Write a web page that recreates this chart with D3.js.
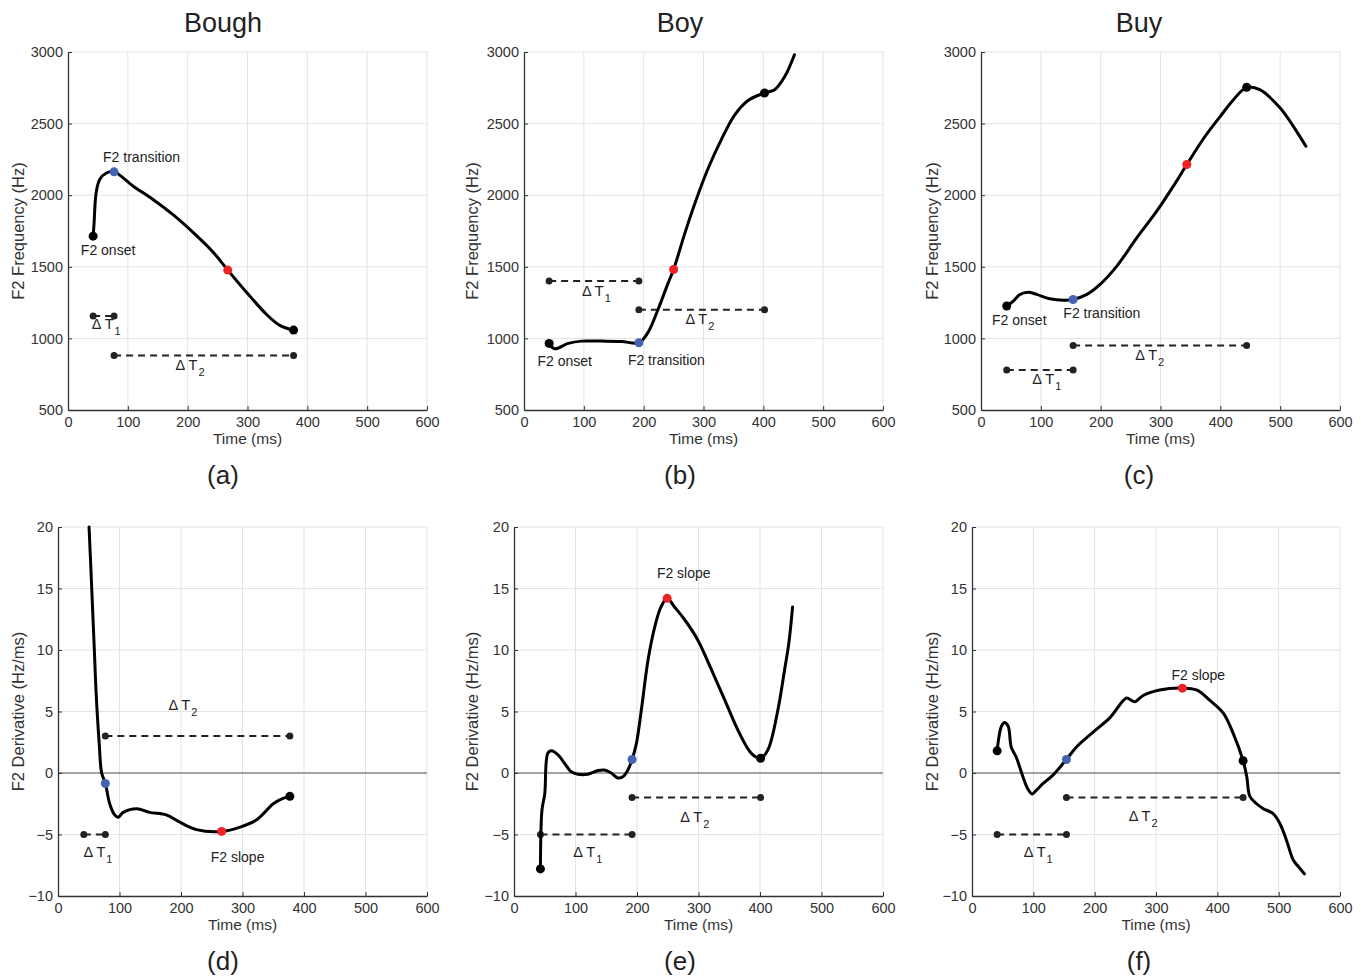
<!DOCTYPE html>
<html>
<head>
<meta charset="utf-8">
<script src="https://cdn.jsdelivr.net/npm/d3@7"></script>
<style>
  body { margin: 0; background: #fff; }
  svg text { font-family: "Liberation Sans", Arial, Helvetica, sans-serif; fill: #222; }
</style>
</head>
<body>
<svg id="fig" width="1366" height="978"></svg>
<script>
// words and columns
let words = ["Bough", "Boy", "Buy"]
let tickT = [0, 100, 200, 300, 400, 500, 600]
let tickF = [500, 1000, 1500, 2000, 2500, 3000]
let tickD = [-10, -5, 0, 5, 10, 15, 20]

// F2 frequency tracks [time ms, Hz]
let freqA = [[42,1714],[43.5,1800],[47,2016],[53,2109],[64,2155],[77,2163],[109,2063],[142,1970],[176,1862],[209,1740],[243,1600],[267,1477],[299,1319],[332,1167],[354,1091],[377,1058]]
let freqB = [[42,965],[51,928],[74,965],[96,981],[129,981],[163,979],[192,970],[207,1040],[224,1202],[241,1388],[250,1481],[269,1737],[287,1960],[308,2190],[330,2390],[352,2560],[374,2660],[402,2714],[419,2737],[436,2830],[452,2981]]
let freqC = [[43,1226],[54,1260],[65,1307],[79,1323],[93,1307],[115,1277],[138,1267],[154,1272],[177,1307],[199,1377],[227,1505],[260,1700],[294,1890],[321,2060],[344,2214],[372,2396],[400,2551],[422,2667],[444,2753],[466,2737],[500,2609],[522,2481],[543,2342]]

// F2 derivative tracks [time ms, Hz/ms]
let derivA = [[50.5,20],[54,16],[59,10.1],[62,6.5],[67,2.4],[71,0],[77,-0.85],[84,-2.5],[92,-3.4],[98,-3.6],[106,-3.2],[128,-2.9],[149,-3.2],[176,-3.4],[198,-4.0],[225,-4.6],[266,-4.75],[296,-4.4],[323,-3.8],[350,-2.5],[364,-2.1],[377,-1.9]]
let derivB = [[43,-7.8],[45.5,-3.0],[50,-1.7],[55,1.6],[61,1.8],[72,1.45],[82,0.8],[93,0.1],[104,-0.1],[120,-0.1],[137,0.2],[147,0.24],[158,0],[169,-0.4],[177,-0.3],[185,0.23],[192,1.1],[199,2.4],[207,5.1],[218,9.2],[229,11.9],[239,13.5],[249,14.2],[261,13.5],[277,12.5],[299,10.8],[321,8.4],[343,5.9],[364,3.5],[386,1.6],[401,1.2],[413,1.9],[429,5.1],[440,8.4],[447,10.6],[453,13.5]]
let derivC = [[41,1.8],[44,2.95],[48,3.8],[53,4.1],[59,3.8],[64,2.1],[72,1.3],[83,-0.3],[91,-1.3],[98,-1.7],[105,-1.4],[116,-0.85],[132,-0.17],[154,1.1],[170,2.1],[197,3.3],[225,4.5],[252,6.1],[260,5.9],[266,5.8],[279,6.3],[306,6.75],[343,6.9],[366,6.75],[388,5.9],[410,4.85],[426,3.2],[442,1.0],[448,-0.3],[453,-1.9],[464,-2.5],[475,-2.9],[491,-3.3],[502,-4.1],[513,-5.5],[524,-7.1],[532,-7.6],[542,-8.2]]

// landmarks: black (onset/end), blue (transition), red (slope)
let freqMarks = [
  { black: [[42,1714],[377,1058]], blue: [77,2163], red: [267,1477] },
  { black: [[42,965],[402,2714]], blue: [192,970], red: [250,1481] },
  { black: [[43,1226],[444,2753]], blue: [154,1272], red: [344,2214] }
]
let derivMarks = [
  { black: [[377,-1.9]], blue: [77,-0.85], red: [266,-4.75] },
  { black: [[43,-7.8],[401,1.2]], blue: [192,1.1], red: [249,14.2] },
  { black: [[41,1.8],[442,1.0]], blue: [154,1.1], red: [343,6.9] }
]

// delta T spans [t0, t1, level], label [t, level]
let freqSpans = [
  { d1: [42,77,1156], l1: [64,1063], d2: [77,377,881], l2: [204,779] },
  { d1: [42,192,1400], l1: [121,1295], d2: [192,402,1200], l2: [294,1098] },
  { d1: [43,154,780], l1: [110,679], d2: [154,444,950], l2: [282,849] }
]
let derivSpans = [
  { d1: [42,77,-5], l1: [65,-6.8], d2: [77,377,3], l2: [203,5.1] },
  { d1: [43,192,-5], l1: [120,-6.8], d2: [192,401,-2], l2: [294,-4.0] },
  { d1: [41,154,-5], l1: [108,-6.8], d2: [154,442,-2], l2: [279,-3.9] }
]

// text notes [text, t, value]
let freqNotes = [
  [["F2 transition",123,2267],["F2 onset",67,1616]],
  [["F2 onset",68,842],["F2 transition",238,849]],
  [["F2 onset",64,1128],["F2 transition",202,1174]]
]
let derivNotes = [
  [["F2 slope",292,-6.8]],
  [["F2 slope",276,16.3]],
  [["F2 slope",369,8.0]]
]

let panelLetters = ["(a)","(b)","(c)","(d)","(e)","(f)"]

let svg = d3.select("#fig")

// panel frames in px
let topFrames = [
  { x0: 68, x1: 427, y0: 52, y1: 410 },
  { x0: 524, x1: 883, y0: 52, y1: 410 },
  { x0: 981, x1: 1340, y0: 52, y1: 410 }
]
let botFrames = [
  { x0: 58, x1: 427, y0: 527, y1: 896 },
  { x0: 514, x1: 883, y0: 527, y1: 896 },
  { x0: 972, x1: 1340, y0: 527, y1: 896 }
]
let ylabX = [18, 472, 932]
let titleX = [223, 680, 1139]

function drawPanel(frame, yDomain, yTicks, curve, marks, spans, notes, yTitle, ylx, letter, lx, zeroLine) {
  let x = d3.scaleLinear().domain([0, 600]).range([frame.x0, frame.x1])
  let y = d3.scaleLinear().domain(yDomain).range([frame.y1, frame.y0])
  let g = svg.append("g")

  // grid
  g.append("g").selectAll("line").data(tickT.slice(1)).join("line")
    .attr("x1", d => x(d)).attr("x2", d => x(d))
    .attr("y1", frame.y0).attr("y2", frame.y1)
    .style("stroke", "#e3e3e3").style("stroke-width", 1)
  g.append("g").selectAll("line").data(yTicks.slice(1)).join("line")
    .attr("x1", frame.x0).attr("x2", frame.x1)
    .attr("y1", d => y(d)).attr("y2", d => y(d))
    .style("stroke", "#e3e3e3").style("stroke-width", 1)

  if (zeroLine) {
    g.append("line")
      .attr("x1", frame.x0).attr("x2", frame.x1)
      .attr("y1", y(0)).attr("y2", y(0))
      .style("stroke", "#555").style("stroke-width", 1.2)
  }

  // axes
  let xAxis = g.append("g")
    .attr("transform", `translate(0,${frame.y1})`)
    .call(d3.axisBottom(x).tickValues(tickT).tickSizeInner(-4).tickSizeOuter(0).tickPadding(7))
  let yAxis = g.append("g")
    .attr("transform", `translate(${frame.x0},0)`)
    .call(d3.axisLeft(y).tickValues(yTicks).tickSizeInner(-4).tickSizeOuter(0).tickPadding(5)
      .tickFormat(d => d < 0 ? "\u2212" + Math.abs(d) : d))
  ;[xAxis, yAxis].forEach(a => {
    a.select(".domain").style("stroke", "#333").style("stroke-width", 1.3)
    a.selectAll(".tick line").style("stroke", "#333")
    a.selectAll(".tick text").style("font-size", "14.5px").style("fill", "#333")
      .style("font-family", "'Liberation Sans', Arial, sans-serif")
  })

  g.append("text")
    .attr("x", (frame.x0 + frame.x1) / 2).attr("y", frame.y1 + 34)
    .attr("text-anchor", "middle")
    .style("font-size", "15.5px").style("fill", "#333")
    .text("Time (ms)")

  g.append("text")
    .attr("transform", `translate(${ylx},${(frame.y0 + frame.y1) / 2}) rotate(-90)`)
    .attr("text-anchor", "middle").attr("dominant-baseline", "central")
    .style("font-size", "16.5px").style("fill", "#333")
    .text(yTitle)

  g.append("text")
    .attr("x", lx).attr("y", frame.y1 + 74)
    .attr("text-anchor", "middle")
    .style("font-size", "26px").style("fill", "#222")
    .text(letter)

  // delta T spans
  ;[["d1", "l1", "1"], ["d2", "l2", "2"]].forEach(([dk, lk, sub]) => {
    let s = spans[dk]
    g.append("line")
      .attr("x1", x(s[0])).attr("x2", x(s[1]))
      .attr("y1", y(s[2])).attr("y2", y(s[2]))
      .style("stroke", "#222").style("stroke-width", 2)
      .style("stroke-dasharray", "7,5")
    g.append("g").selectAll("circle").data([s[0], s[1]]).join("circle")
      .attr("cx", d => x(d)).attr("cy", y(s[2])).attr("r", 3.5)
      .style("fill", "#222")
    let l = spans[lk]
    let t = g.append("text")
      .attr("x", x(l[0])).attr("y", y(l[1]))
      .attr("text-anchor", "middle")
      .style("font-size", "14.5px").style("fill", "#222")
    t.append("tspan").text("\u0394 T")
    t.append("tspan").attr("dx", 1).attr("dy", 6).style("font-size", "11px").text(sub)
  })

  // curve
  let line = d3.line()
    .x(d => x(d[0])).y(d => y(d[1]))
    .curve(d3.curveCatmullRom.alpha(0.5))
  g.append("path")
    .attr("d", line(curve))
    .style("fill", "none").style("stroke", "#000")
    .style("stroke-width", 3).style("stroke-linejoin", "round").style("stroke-linecap", "round")

  // landmark points
  g.append("g").selectAll("circle").data(marks.black).join("circle")
    .attr("cx", d => x(d[0])).attr("cy", d => y(d[1])).attr("r", 4.5)
    .style("fill", "#000")
  g.append("circle")
    .attr("cx", x(marks.blue[0])).attr("cy", y(marks.blue[1])).attr("r", 4.5)
    .style("fill", "#4563b3")
  g.append("circle")
    .attr("cx", x(marks.red[0])).attr("cy", y(marks.red[1])).attr("r", 4.5)
    .style("fill", "#ee2224")

  notes.forEach(n => {
    g.append("text")
      .attr("x", x(n[1])).attr("y", y(n[2]))
      .attr("text-anchor", "middle").attr("dominant-baseline", "central")
      .style("font-size", "14px").style("fill", "#222")
      .text(n[0])
  })
}

let freqCurves = [freqA, freqB, freqC]
let derivCurves = [derivA, derivB, derivC]

words.forEach((w, i) => {
  svg.append("text")
    .attr("x", titleX[i]).attr("y", 32)
    .attr("text-anchor", "middle")
    .style("font-size", "27px").style("fill", "#222")
    .text(w)

  drawPanel(topFrames[i], [500, 3000], tickF, freqCurves[i], freqMarks[i], freqSpans[i], freqNotes[i],
    "F2 Frequency (Hz)", ylabX[i], panelLetters[i], titleX[i], false)
  drawPanel(botFrames[i], [-10, 20], tickD, derivCurves[i], derivMarks[i], derivSpans[i], derivNotes[i],
    "F2 Derivative (Hz/ms)", ylabX[i], panelLetters[i + 3], titleX[i], true)
})
</script>
</body>
</html>
